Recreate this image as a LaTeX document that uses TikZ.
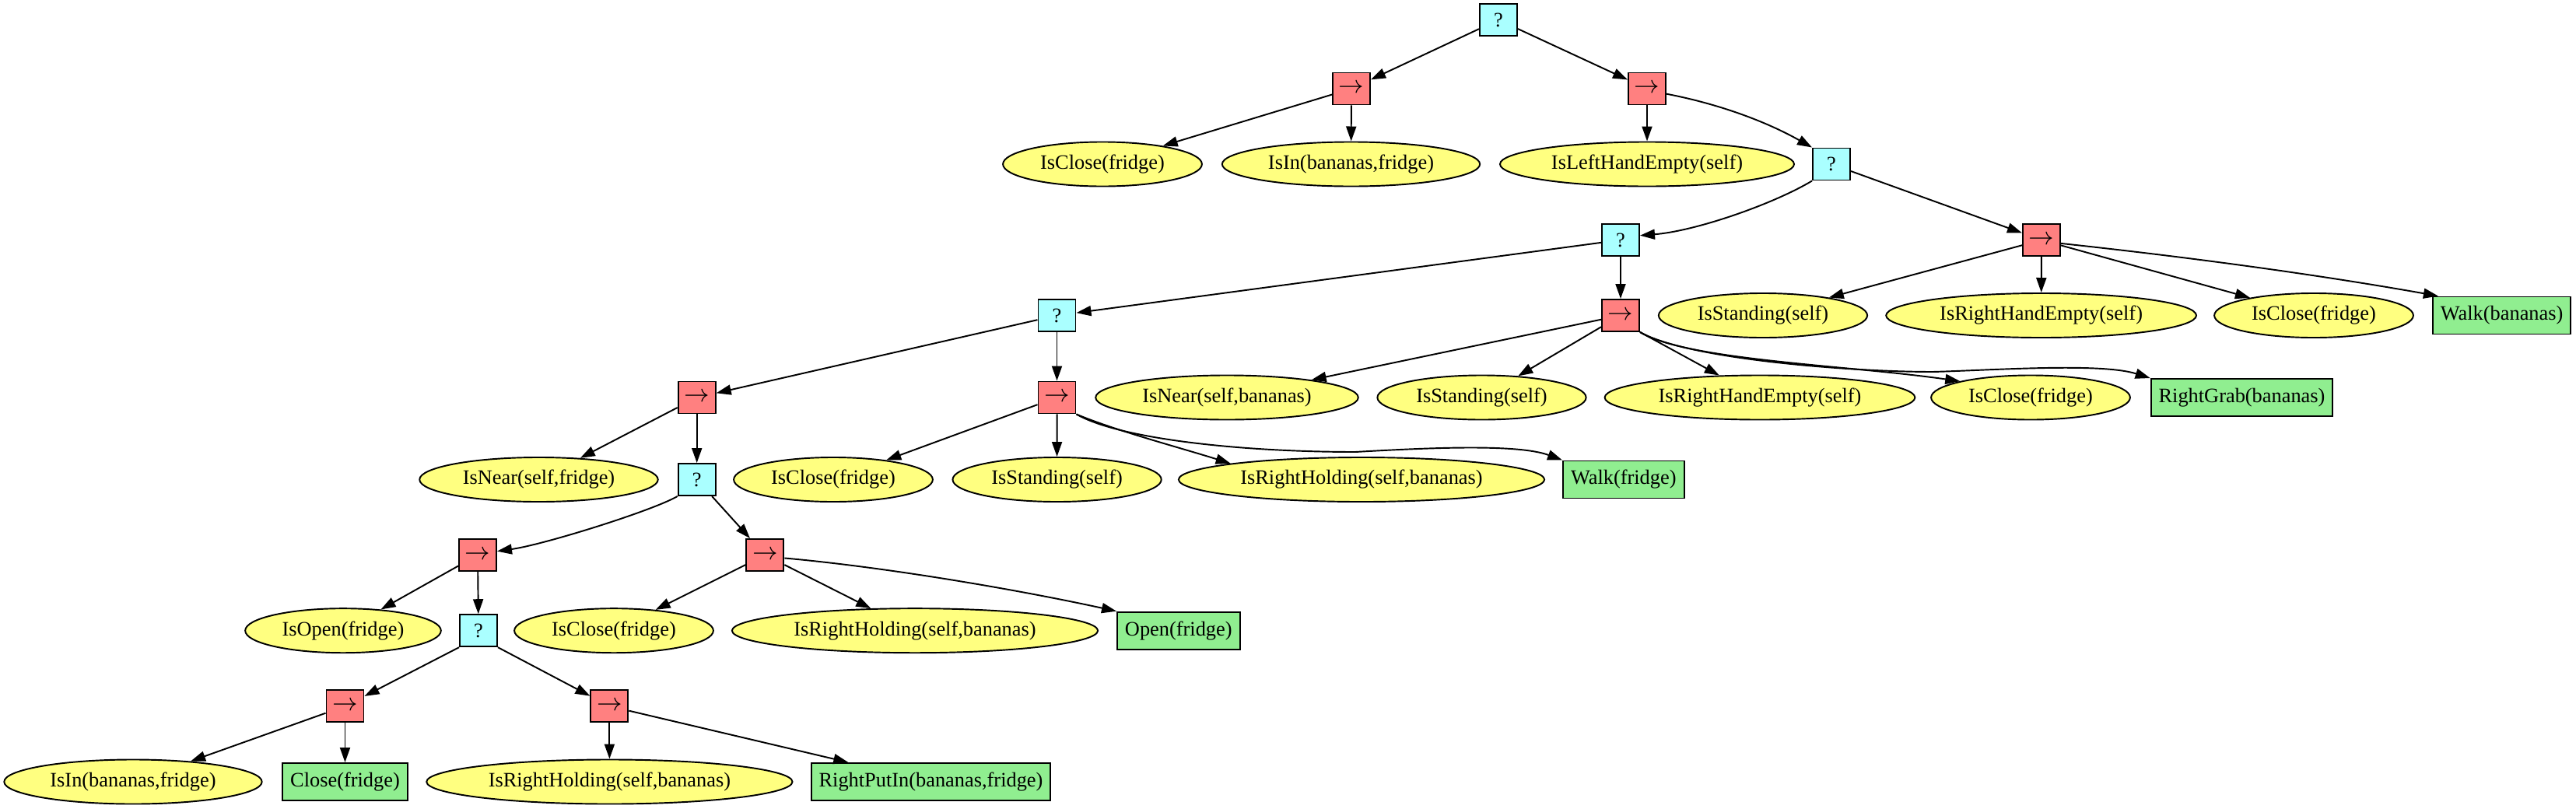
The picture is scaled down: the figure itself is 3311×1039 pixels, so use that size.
\documentclass[tikz,border=0pt]{standalone}
\usepackage{fontspec}
\setmainfont{Liberation Serif}
\usetikzlibrary{arrows.meta,shapes.geometric}
\definecolor{selcol}{HTML}{AAFFFF}
\definecolor{seqcol}{HTML}{FF8080}
\definecolor{condcol}{HTML}{FFFF80}
\definecolor{actcol}{HTML}{90EE90}
\newcommand{\seqarrow}{{\fontsize{9}{10}\selectfont$\rightarrow$}}
\begin{document}
\begin{tikzpicture}[x=0.01cm, y=-0.01cm,
  every node/.style={font=\fontsize{7.5}{9}\selectfont, line width=0.55pt},
  selbox/.style={draw=black, fill=selcol, minimum width=0.48cm, minimum height=0.41cm, inner sep=0pt},
  seqbox/.style={draw=black, fill=seqcol, minimum width=0.48cm, minimum height=0.41cm, inner sep=0pt},
  cond/.style={ellipse, draw=black, fill=condcol, minimum height=0.57cm, inner xsep=0.106cm, inner ysep=0pt},
  act/.style={draw=black, fill=actcol, minimum height=0.48cm, inner xsep=0.1cm, inner ysep=0pt},
  edge/.style={-{Triangle[length=0.19cm,width=0.13cm]}, line width=0.55pt},
]
\useasboundingbox (0,0) rectangle (3311,1039);
% row 0
\node[selbox] (root) at (1926,25.5) {?};
% row 1
\node[seqbox] (s1) at (1737,114) {\seqarrow};
\node[seqbox] (s2) at (2117,114) {\seqarrow};
% row 2
\node[cond] (c2a) at (1417,211) {IsClose(fridge)};
\node[cond] (c2b) at (1736.5,211) {IsIn(bananas,fridge)};
\node[cond] (c2c) at (2117,211) {IsLeftHandEmpty(self)};
\node[selbox] (q2) at (2354,211) {?};
% row 3
\node[selbox] (q3) at (2083,308.5) {?};
\node[seqbox] (s3) at (2624,308.5) {\seqarrow};
% row 4
\node[selbox] (q4) at (1358.5,405.5) {?};
\node[seqbox] (s4) at (2083,405.5) {\seqarrow};
\node[cond] (c4a) at (2266,405.5) {IsStanding(self)};
\node[cond] (c4b) at (2623.6,405.5) {IsRightHandEmpty(self)};
\node[cond] (c4c) at (2974,405.5) {IsClose(fridge)};
\node[act] (a4) at (3215.6,405.5) {Walk(bananas)};
% row 5
\node[seqbox] (s5) at (895.7,511) {\seqarrow};
\node[seqbox] (s6) at (1358.5,511) {\seqarrow};
\node[cond] (c5a) at (1577,511) {IsNear(self,bananas)};
\node[cond] (c5b) at (1904.5,511) {IsStanding(self)};
\node[cond] (c5c) at (2262,511) {IsRightHandEmpty(self)};
\node[cond] (c5d) at (2610,511) {IsClose(fridge)};
\node[act] (a5) at (2881.5,511) {RightGrab(bananas)};
% row 6
\node[cond] (c6a) at (692.5,616.5) {IsNear(self,fridge)};
\node[selbox] (q6) at (895.7,616.5) {?};
\node[cond] (c6b) at (1071,616.5) {IsClose(fridge)};
\node[cond] (c6c) at (1358.6,616.5) {IsStanding(self)};
\node[cond] (c6d) at (1750,616.5) {IsRightHolding(self,bananas)};
\node[act] (a6) at (2086.8,616.5) {Walk(fridge)};
% row 7
\node[seqbox] (s7) at (614,713.5) {\seqarrow};
\node[seqbox] (s8) at (983.4,713.5) {\seqarrow};
% row 8
\node[cond] (c8a) at (441,810.7) {IsOpen(fridge)};
\node[selbox] (q8) at (615,810.7) {?};
\node[cond] (c8b) at (789,810.7) {IsClose(fridge)};
\node[cond] (c8c) at (1176,810.7) {IsRightHolding(self,bananas)};
\node[act] (a8) at (1514.8,810.7) {Open(fridge)};
% row 9
\node[seqbox] (s9) at (443.5,907.8) {\seqarrow};
\node[seqbox] (s10) at (783.4,907.8) {\seqarrow};
% row 10
\node[cond] (c10a) at (171,1005) {IsIn(bananas,fridge)};
\node[act] (a10a) at (443.5,1005) {Close(fridge)};
\node[cond] (c10b) at (783.4,1005) {IsRightHolding(self,bananas)};
\node[act] (a10b) at (1196.5,1005) {RightPutIn(bananas,fridge)};

% edges
\draw[edge] (root) -- (s1);
\draw[edge] (root) -- (s2);
\draw[edge] (s1) -- (c2a);
\draw[edge] (s1) -- (c2b);
\draw[edge] (s2) -- (c2c);
\draw[edge] (s2.-15) .. controls (2216,135) and (2275,159) .. (q2.north west);
\draw[edge] (q2.south west) .. controls (2280,262) and (2180,297) .. (q3.13);
\draw[edge] (q2) -- (s3);
\draw[edge] (q3) -- (q4);
\draw[edge] (q3) -- (s4);
\draw[edge] (s3) -- (c4a);
\draw[edge] (s3) -- (c4b);
\draw[edge] (s3) -- (c4c);
\draw[edge] (s3.-10) .. controls (2808,330) and (2973,352) .. (a4.163);
\draw[edge] (q4) -- (s5);
\draw[edge] (q4) -- (s6);
\draw[edge] (s4) -- (c5a);
\draw[edge] (s4) -- (c5b);
\draw[edge] (s4.south east) -- (c5c);
\draw[edge] (s4.south east) .. controls (2168,463) and (2370,469) .. (c5d.167);
\draw[edge] (s4.south east) .. controls (2170,462) and (2380,478) .. (2484,478)
   .. controls (2560,476) and (2700,466) .. (a5.north west);
\draw[edge] (s5) -- (c6a);
\draw[edge] (s5) -- (q6);
\draw[edge] (s6) -- (c6b);
\draw[edge] (s6) -- (c6c);
\draw[edge] (s6.south east) .. controls (1432,553) and (1515,575) .. (c6d.173);
\draw[edge] (s6.south east) .. controls (1440,565) and (1600,581) .. (1742,581)
   .. controls (1830,576) and (1950,570) .. (a6.north west);
\draw[edge] (q6.south west) .. controls (840,656) and (700,700) .. (s7.11);
\draw[edge] (q6) -- (s8);
\draw[edge] (s7) -- (c8a);
\draw[edge] (s7) -- (q8);
\draw[edge] (s8) -- (c8b);
\draw[edge] (s8) -- (c8c);
\draw[edge] (s8.-9) .. controls (1137,729) and (1303,757) .. (a8.north west);
\draw[edge] (q8.south west) -- (s9);
\draw[edge] (q8.south east) -- (s10);
\draw[edge] (s9) -- (c10a);
\draw[edge] (s9) -- (a10a);
\draw[edge] (s10) -- (c10b);
\draw[edge] (s10) -- (a10b);
\end{tikzpicture}
\end{document}
